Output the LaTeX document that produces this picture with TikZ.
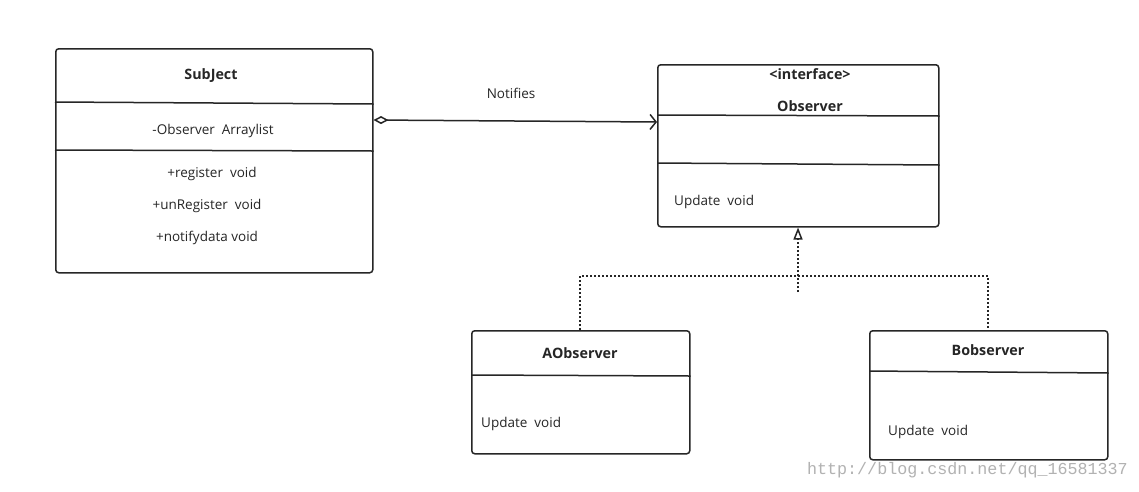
\documentclass[tikz,border=0pt]{standalone}
\usepackage{fontspec}
\setmainfont{Open Sans}
\newfontfamily\wmfont{Liberation Mono}
\usetikzlibrary{arrows.meta}
\begin{document}
\begin{tikzpicture}[x=1pt,y=-1pt,
  umlbox/.style={draw=black!85,line width=1.5pt,rounded corners=3pt,anchor=north west,inner sep=0pt},
  sep/.style={draw=black!85,line width=1.5pt},
  txt/.style={font=\fontsize{13.5}{15}\selectfont,text=black!85,inner sep=0pt},
  ttl/.style={font=\fontsize{14.3}{16}\selectfont\bfseries,text=black!85,inner sep=0pt},
  conn/.style={draw=black!85,line width=1.5pt},
  dots/.style={draw=black!85,line width=1.6pt,dash pattern=on 1.6pt off 2.4pt}]
\useasboundingbox[fill=white] (0,0) rectangle (1139,491);

% SubJect
\node[umlbox,minimum width=317pt,minimum height=224pt] (sub) at (55,48) {};
\draw[sep] (sub.west |- 0,102) -- (sub.east |- 0,104);
\draw[sep] (sub.west |- 0,150) -- (sub.east |- 0,151);
\node[ttl] (subT) at (211,76) {SubJect};
\node[txt] (subA) at (213,131) {-Observer\ \ Arraylist};
\node[txt] (subM1) at (212,174) {+register\ \ void};
\node[txt] (subM2) at (207,206) {+unRegister\ \ void};
\node[txt] (subM3) at (207,238) {+notifydata void};

% Observer
\node[umlbox,minimum width=281pt,minimum height=162pt] (obs) at (657,64) {};
\draw[sep] (obs.west |- 0,115) -- (obs.east |- 0,116);
\draw[sep] (obs.west |- 0,163) -- (obs.east |- 0,165);
\node[ttl] (obsS) at (810,74) {<interface>};
\node[ttl] (obsT) at (810,106) {Observer};
\node[txt,anchor=west] (obsU) at (674,202) {Update\ \ void};

% AObserver
\node[umlbox,minimum width=218pt,minimum height=123pt] (aob) at (471,330) {};
\draw[sep] (aob.west |- 0,375) -- (aob.east |- 0,376);
\node[ttl] (aobT) at (580,353) {AObserver};
\node[txt,anchor=west] (aobU) at (481,424) {Update\ \ void};

% Bobserver
\node[umlbox,minimum width=238pt,minimum height=129pt] (bob) at (869,330) {};
\draw[sep] (bob.west |- 0,371) -- (bob.east |- 0,373);
\node[ttl] (bobT) at (988,350) {Bobserver};
\node[txt,anchor=west] (bobU) at (888,432) {Update\ \ void};

% Association
\node[txt] (lbl) at (511,93) {Notifies};
\draw[conn,{Diamond[open,length=15pt,width=8pt,line width=1.5pt]}-{Straight Barb[length=6pt,width=15pt,line width=1.5pt]}]
  (sub.east |- 0,120) -- (obs.west |- 0,122);

% Realization
\coordinate (jn) at (798,276);
\coordinate (stub) at (798,292);
\draw[dots] (aob.north -| 580,0) -- (580,276) -- (988,276) -- (bob.north -| 988,0);
\draw[dots] (stub) -- (jn);
\draw[dots,-{Triangle[open,length=12pt,width=9pt,line width=1.5pt,sep=0pt]}] (jn) -- (obs.south -| 798,0);

% watermark
\node[font=\wmfont\fontsize{16.7}{18}\selectfont,text=black!30,anchor=east,inner sep=0pt] (wm) at (1128,470) {http://blog.csdn.net/qq\_16581337};
\end{tikzpicture}
\end{document}
